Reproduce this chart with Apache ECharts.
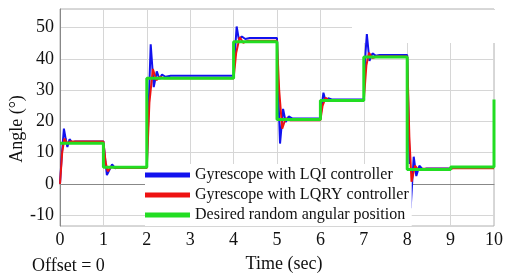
<!DOCTYPE html>
<html>
<head>
<meta charset="utf-8">
<script src="https://cdn.jsdelivr.net/npm/echarts@6/dist/echarts.min.js"></script>
<style>
  html, body { margin: 0; padding: 0; background: #fff; }
  #main { width: 506px; height: 278px; }
</style>
</head>
<body>
<div id="main"></div>
<script>
// time (sec) and angle (deg) for each trace
var lqiTime = [0, 0.04, 0.09, 0.13, 0.17, 0.22, 0.28, 0.35, 1.0, 1.04, 1.08, 1.14, 1.2, 1.27, 1.35,
  2.0, 2.05, 2.09, 2.16, 2.23, 2.29, 2.35, 2.43, 2.55, 4.0, 4.04, 4.07, 4.12, 4.19, 4.27, 4.37,
  5.0, 5.04, 5.07, 5.14, 5.2, 5.27, 5.36, 6.0, 6.04, 6.07, 6.12, 6.18, 6.26,
  7.0, 7.04, 7.07, 7.13, 7.2, 7.28, 7.36, 8.0, 8.04, 8.08, 8.15, 8.21, 8.28, 8.36, 8.45, 9.0, 9.05, 10];
var lqiAngle = [0, 9, 17.7, 14.5, 11.8, 14.3, 13.2, 13.6, 13.6, 8, 2.8, 4.5, 6.2, 5, 5.4,
  5.4, 28, 44.7, 31, 36, 33.6, 35, 34.3, 34.6, 34.6, 44, 50.4, 46.3, 47.2, 46.4, 46.7,
  46.7, 25, 12.9, 24, 19.8, 21.6, 20.9, 20.9, 26, 29.2, 26.4, 27.4, 27,
  27, 42, 48, 39.4, 41.8, 41, 41.3, 41.3, 15, -7.8, 8.7, 2.5, 5.8, 4.6, 4.9, 4.9, 5.1, 5.1];

var lqryTime = [0, 0.05, 0.1, 0.16, 0.24, 1.0, 1.05, 1.1, 1.18, 1.28, 2.0, 2.06, 2.14, 2.22, 2.3, 2.4,
  4.0, 4.06, 4.14, 4.22, 4.32, 5.0, 5.05, 5.12, 5.2, 5.3, 6.0, 6.05, 6.12, 6.2,
  7.0, 7.06, 7.12, 7.2, 7.3, 8.0, 8.05, 8.1, 8.18, 8.26, 8.35, 9.0, 9.05, 10];
var lqryAngle = [0, 10, 14.5, 13, 13.6, 13.6, 7, 4, 5.5, 5.1, 5.1, 26, 36.8, 33.2, 34.2, 33.8,
  33.8, 42, 47, 45.2, 45.8, 45.8, 30, 17.7, 21, 20.4, 20.4, 25, 27.6, 26.7,
  26.7, 38, 42, 40.3, 40.8, 40.8, 15, 0.7, 5.8, 4.4, 4.8, 4.8, 5.0, 5.0];

var desiredTime = [0, 1, 1, 2, 2, 4, 4, 5, 5, 6, 6, 7, 7, 8, 8, 9, 9, 10, 10];
var desiredAngle = [13, 13, 5.3, 5.3, 33.8, 33.8, 45.5, 45.5, 20.6, 20.6, 26.7, 26.7, 40.6, 40.6, 4.6, 4.6, 5.4, 5.4, 27];

var seriesNames = ['Gyrescope with LQI controller', 'Gyrescope with LQRY controller', 'Desired random angular position'];

function pairs(t, v) {
  return t.map(function (x, i) { return [x, v[i]]; });
}

var serif = 'Liberation Serif';
var tickText = { t: { fontFamily: serif, fontSize: 18, color: '#111' } };
var myChart = echarts.init(document.getElementById('main'));

var option = {
  animation: false,
  backgroundColor: '#fff',
  color: ['#1212ee', '#ee1212', '#22dd22'],
  textStyle: { fontFamily: serif },
  grid: {
    left: 60, right: 6, top: 9, bottom: 50,
    show: true, borderColor: '#b0b0b0', borderWidth: 1
  },
  legend: {
    orient: 'vertical',
    left: 145, top: 164,
    padding: [3, 3, 3, 0],
    itemGap: 4,
    itemWidth: 45, itemHeight: 5,
    icon: 'rect',
    backgroundColor: '#fff',
    textStyle: { fontFamily: serif, fontSize: 16, color: '#111', lineHeight: 16 },
    data: seriesNames
  },
  xAxis: {
    type: 'value', min: 0, max: 10, interval: 1,
    name: 'Time (sec)', nameLocation: 'middle', nameGap: 29,
    nameTextStyle: { fontFamily: serif, fontSize: 18, color: '#111', padding: [0, 0, 0, 14] },
    axisLine: { lineStyle: { color: '#888' } },
    axisTick: { show: false },
    axisLabel: { formatter: '{t|{value}}', rich: tickText, margin: 5 },
    splitLine: { lineStyle: { color: '#d6d6d6' } }
  },
  yAxis: {
    type: 'value', min: -13.5, max: 56,
    axisLine: { show: true, lineStyle: { color: '#888' } },
    axisTick: { show: false },
    axisLabel: { formatter: '{t|{value}}', rich: tickText, margin: 6, showMinLabel: false, showMaxLabel: false },
    splitLine: { lineStyle: { color: '#d6d6d6' } }
  },
  graphic: [
    { type: 'rect', z: 1, shape: { x: 352, y: 10, width: 145, height: 33 }, style: { fill: '#fff' } },
    { type: 'text', x: 17, y: 129, rotation: Math.PI / 2,
      style: { text: 'Angle (°)', font: '18px "Liberation Serif"', fill: '#111', textAlign: 'center', textVerticalAlign: 'middle' } },
    { type: 'text', x: 32, y: 266,
      style: { text: 'Offset = 0', font: '18px "Liberation Serif"', fill: '#111', textAlign: 'left', textVerticalAlign: 'middle' } }
  ],
  series: [
    { name: seriesNames[0], type: 'line', showSymbol: false, z: 3, lineStyle: { width: 2 }, data: pairs(lqiTime, lqiAngle) },
    { name: seriesNames[1], type: 'line', showSymbol: false, z: 4, lineStyle: { width: 2 }, data: pairs(lqryTime, lqryAngle) },
    { name: seriesNames[2], type: 'line', showSymbol: false, z: 5, lineStyle: { width: 3 }, data: pairs(desiredTime, desiredAngle) }
  ]
};

myChart.setOption(option);
</script>
</body>
</html>
